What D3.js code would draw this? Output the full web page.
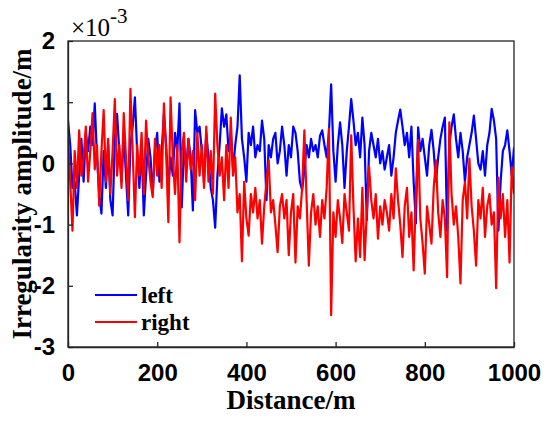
<!DOCTYPE html>
<html lang="en">
<head>
    <meta charset="UTF-8">
    <title>Irregularity amplitude</title>
    <style>
        body, html {
            margin: 0;
            padding: 0;
            background-color: #ffffff;
            overflow: hidden;
        }

        svg {
            font-family: "Liberation Serif", "Times New Roman", serif;
        }

        .tick-label {
            font-size: 24px;
            font-weight: bold;
            fill: #000;
        }

        .axis-label {
            font-size: 27px;
            font-weight: bold;
            fill: #000;
        }

        .legend-label {
            font-size: 23px;
            font-weight: bold;
            fill: #000;
        }

        .series {
            fill: none;
            stroke-width: 2.2px;
            stroke-linejoin: round;
        }
    </style>
</head>
<body>
    <div id="chart"></div>

    <script src="https://d3js.org/d3.v7.min.js"></script>

    <script>
        // distance along the track, m (5 m sampling)
        const distance = d3.range(0, 1001, 5);

        // irregularity amplitude, x 10^-3 m
        const left = [
            0.7, 0.3, -0.4, -0.3, -0.85, -0.2, 0.4, -0.3, 0.5, 0.2, 0.6, 0.3, 0.98, 0.1, -0.5, -0.82, 0.2, -0.4, 0.3, -0.6, -0.85,
            0.4, 0.81, 0.2, -0.3, 0.5, -0.2, -0.85, 0.3, 0.6, 1.08, 0.2, -0.4, 0.3, -0.85, -0.2, 0.4, 0.1, -0.5, 0.2, 0.5,
            -0.3, 0.2, 0.8, 0.3, -0.4, 0.1, -0.2, 0.5, 0.2, 0.98, -0.72, 0.3, -0.1, 0.4, 0.1, -0.77, 0.87, 0.5, 0.6, 0.2,
            -0.3, 0.5, 0.1, -0.4, -0.6, -1.05, -0.2, 0.3, 0.9, 0.6, 0.8, 0.2, 0.5, -0.1, 0.3, 0.6, 1.44, 0.4, 0.1, -0.3,
            0.5, 0.3, 0.6, 0.1, 0.3, 0.2, 0.7, 0.4, -0.6, 0.3, 0.1, 0.4, 0.5, 0.0, 0.2, 0.6, 0.3, -0.2, 0.3, 0.1,
            0.6, 0.5, 0.2, -0.3, -0.44, -0.1, 0.3, 0.1, 0.4, 0.2, 0.3, 0.1, 0.45, 0.54, 0.3, 0.1, 0.5, 1.29, 0.2, -0.3,
            0.3, 0.67, 0.3, -0.4, 0.2, 0.6, 1.05, 0.7, 0.3, 0.5, 0.1, 0.75, 0.3, -0.93, 0.2, 0.5, 0.3, 0.1, 0.4, 0.0,
            0.2, -0.1, 0.1, 0.3, -0.2, 0.1, 0.5, 0.7, 0.88, 0.6, 0.3, 0.5, 0.1, 0.6, -0.3, -0.98, 0.59, 0.2, 0.4, 0.1,
            -0.2, 0.3, 0.55, 0.2, -0.3, 0.1, 0.4, 0.6, 0.75, -1.1, 0.3, 0.6, 0.8, 0.4, 0.1, 0.5, 0.2, -0.3, 0.1, 0.3,
            0.5, 0.78, 0.4, 0.0, -0.1, 0.2, -0.2, 0.3, 0.5, 0.89, 0.7, 0.4, -1.1, -0.3, 0.2, 0.3, 0.54, 0.2, -0.2, 0.26
        ];

        const right = [
            0.45, -0.3, -1.1, 0.2, -0.4, 0.54, -0.2, 0.1, 0.6, -0.3, 0.2, 0.82, -0.1, 0.3, -0.69, 0.2, 0.87, -0.3, 0.4, -0.5, 0.2,
            1.05, -0.2, 0.3, -0.4, 0.82, 0.1, -0.6, 1.22, 0.2, -0.88, 0.3, -0.2, 0.5, -0.5, 0.7, 0.1, -0.3, -0.55, 0.4, -0.2,
            0.3, -0.4, 0.98, 0.2, -0.96, 1.08, 0.1, -0.5, 0.3, -1.29, 0.2, 0.5, -0.3, 0.4, -0.1, 0.2, -0.6, 0.5, -0.2, 0.3,
            -0.4, 0.6, -0.3, 0.2, -0.5, 1.14, 0.3, -0.2, 0.1, -0.6, 0.3, -0.4, 0.75, -0.2, 0.1, -0.8, -0.5, -1.6, -0.3, -0.9,
            -1.18, -0.5, -0.8, -0.4, -0.9, -0.6, -1.31, -0.7, -0.3, 0.05, -0.8, -0.6, -1.0, -1.45, -0.7, -0.5, -0.9, -0.6, -1.5, -0.8,
            -0.5, -1.62, -0.7, -0.9, -0.4, 0.54, -0.6, -1.67, -0.8, -0.5, -1.0, -0.7, -1.2, -0.6, -0.9, -0.4, 0.57, -2.48, -0.8, -1.2,
            -0.6, -0.9, -1.3, -0.5, -0.8, -1.1, 0.46, -0.7, -1.6, -0.9, -1.53, -0.4, -1.58, -0.8, -0.05, -0.6, -0.9, -0.5, -1.23, -0.7,
            -1.0, -0.6, -0.8, -1.1, -0.5, -0.9, -0.08, -0.6, -1.0, -1.53, -0.7, -0.4, -1.2, -0.8, -1.75, -0.5, 0.38, -0.9, -1.3, -1.8,
            -0.7, -1.0, -1.31, -0.4, 0.05, -0.8, -1.2, -0.6, -0.9, -1.86, 0.67, -0.5, -1.0, -0.7, -1.2, -1.96, -0.6, -0.3, -0.9, 0.08,
            -0.7, -1.1, -1.67, -0.6, -0.9, -0.4, -1.2, -0.7, -0.5, -1.0, -0.8, -2.04, -0.23, -0.9, -0.5, -1.2, -0.6, -1.62, -0.06, -0.5
        ];

        const xTicks = [0, 200, 400, 600, 800, 1000];
        const yTicks = [-3, -2, -1, 0, 1, 2];

        const series = [
            { name: 'left', values: left, color: '#0000ff' },
            { name: 'right', values: right, color: '#ff0000' }
        ];

        const width = 550;
        const height = 421;
        const margin = { top: 41, right: 36, bottom: 74, left: 68 };
        const plotW = width - margin.left - margin.right;
        const plotH = height - margin.top - margin.bottom;

        const svg = d3.select('#chart').append('svg')
            .attr('width', width)
            .attr('height', height);

        const x = d3.scaleLinear().domain([0, 1000]).range([margin.left, margin.left + plotW]);
        const y = d3.scaleLinear().domain([-3, 2]).range([margin.top + plotH, margin.top]);

        // clip so lines stay inside the box
        svg.append('clipPath').attr('id', 'clip')
            .append('rect')
            .attr('x', margin.left).attr('y', margin.top)
            .attr('width', plotW).attr('height', plotH);

        const line = d3.line()
            .x((d, i) => x(distance[i]))
            .y(d => y(d));

        svg.append('g')
            .attr('clip-path', 'url(#clip)')
            .selectAll('path.series')
            .data(series)
            .enter().append('path')
            .attr('class', 'series')
            .attr('stroke', d => d.color)
            .attr('d', d => line(d.values));

        // axes with inward ticks, MATLAB style
        const xAxis = svg.append('g')
            .attr('transform', `translate(0,${margin.top + plotH})`)
            .call(d3.axisBottom(x).tickValues(xTicks).tickFormat(d3.format('d'))
                .tickSizeInner(-5).tickSizeOuter(0).tickPadding(17));
        xAxis.selectAll('text').attr('class', 'tick-label').attr('dy', '0.71em');

        const yAxis = svg.append('g')
            .attr('transform', `translate(${margin.left},0)`)
            .call(d3.axisLeft(y).tickValues(yTicks).tickSizeInner(-5).tickSizeOuter(0).tickPadding(13)
                .tickFormat(d => d < 0 ? '-' + Math.abs(d) : d));
        yAxis.selectAll('text').attr('class', 'tick-label');

        svg.selectAll('.domain, .tick line').attr('stroke', '#262626').attr('stroke-width', 1.3);

        // box
        svg.append('rect')
            .attr('x', margin.left).attr('y', margin.top)
            .attr('width', plotW).attr('height', plotH)
            .attr('fill', 'none')
            .attr('stroke', '#262626')
            .attr('stroke-width', 1.3);

        // exponent
        const expo = svg.append('text')
            .attr('x', margin.left + 3)
            .attr('y', 36)
            .style('font-size', '25px')
            .style('fill', '#000');
        expo.append('tspan').text('\u00d710');
        expo.append('tspan').attr('dy', -13).style('font-size', '21px').text('-3');

        // axis labels
        svg.append('text')
            .attr('class', 'axis-label')
            .attr('x', margin.left + plotW / 2)
            .attr('y', 409)
            .attr('text-anchor', 'middle')
            .text('Distance/m');

        svg.append('text')
            .attr('class', 'axis-label')
            .attr('transform', `translate(31,${margin.top + plotH / 2}) rotate(-90)`)
            .attr('text-anchor', 'middle')
            .text('Irregularity amplitude/m');

        // legend
        const legend = svg.selectAll('g.legend')
            .data(series)
            .enter().append('g')
            .attr('class', 'legend')
            .attr('transform', (d, i) => `translate(95,${295 + i * 27})`);

        legend.append('line')
            .attr('x1', 0).attr('x2', 42)
            .attr('stroke', d => d.color)
            .attr('stroke-width', 2);

        legend.append('text')
            .attr('class', 'legend-label')
            .attr('x', 46)
            .attr('y', 8)
            .text(d => d.name);
    </script>
</body>
</html>
